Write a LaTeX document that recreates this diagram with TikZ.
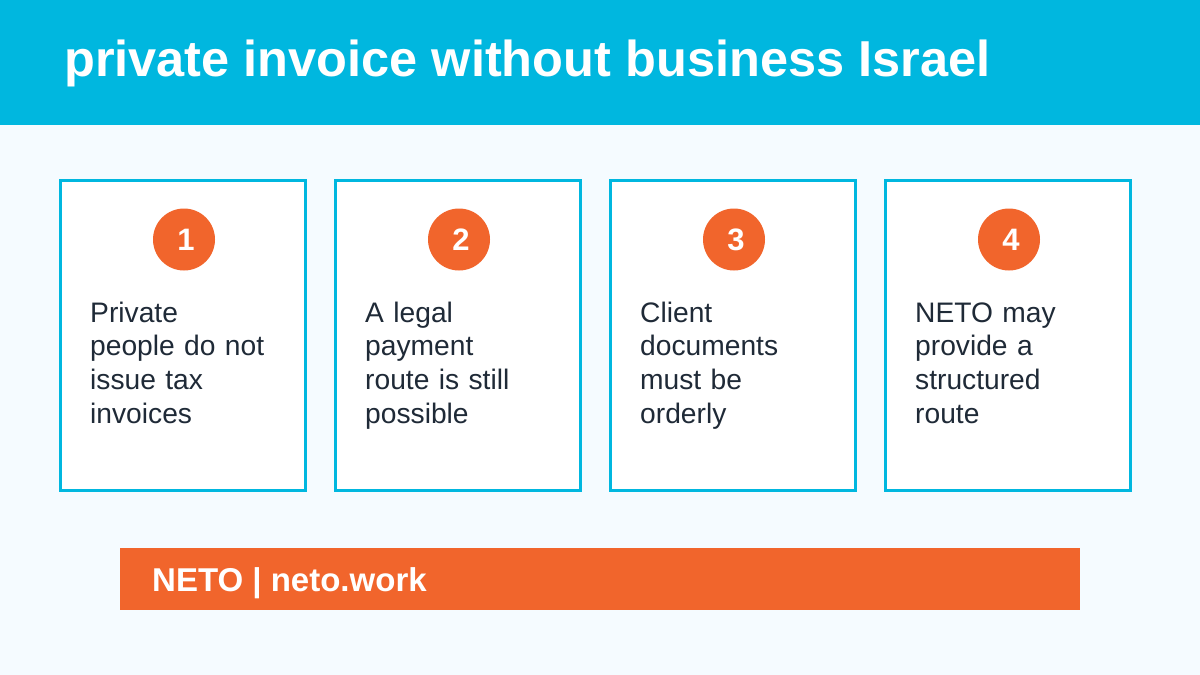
\documentclass[tikz,border=0pt]{standalone}
\usepackage{fontspec}
\setmainfont{Liberation Sans}
\newfontfamily\cardfont[WordSpace=0.7]{Liberation Sans}
\usetikzlibrary{positioning}
\definecolor{headblue}{HTML}{00B7DF}
\definecolor{pagetint}{HTML}{F5FBFF}
\definecolor{accent}{HTML}{F1652C}
\definecolor{inktext}{HTML}{1F2A37}
\begin{document}
\begin{tikzpicture}[
    x=1pt, y=-1pt,
    card/.style={draw=headblue, fill=white, line width=3.6pt, outer sep=0pt, minimum width=245pt, minimum height=310pt, inner sep=0pt},
    badge/.style={circle, fill=accent, text=white, minimum size=62pt, inner sep=0pt, font=\fontsize{31}{36}\selectfont\bfseries},
    cardtext/.style={text=inktext, text width=200pt, align=left, inner sep=0pt, font=\cardfont\fontsize{28.2}{33.7}\selectfont}
]
    % Page and header
    \fill[pagetint] (0, 0) rectangle (1200, 675);
    \useasboundingbox (0, 0) rectangle (1200, 675);
    \node[fill=headblue, outer sep=0pt, minimum width=1200pt, minimum height=125pt, inner sep=0pt, anchor=north west] (header) at (0, 0) {};
    \node[text=white, anchor=base west, inner sep=0pt, font=\fontsize{50.5}{60}\selectfont\bfseries] (title) at (64, 76) {private invoice without business Israel};

    % Cards
    \node[card, anchor=north west] (C1) at (60.3, 180.3) {};
    \node[card, anchor=north west] (C2) at (335.3, 180.3) {};
    \node[card, anchor=north west] (C3) at (610.3, 180.3) {};
    \node[card, anchor=north west] (C4) at (885.3, 180.3) {};

    % Numbers
    \node[badge] (B1) at (184, 239.5) {\hspace*{4pt}1};
    \node[badge] (B2) at (459, 239.5) {\hspace*{4pt}2};
    \node[badge] (B3) at (734, 239.5) {\hspace*{4pt}3};
    \node[badge] (B4) at (1009, 239.5) {\hspace*{4pt}4};

    % Card texts
    \node[cardtext, anchor=base west] (T1) at (90, 322) {Private\\people do not\\issue tax\\invoices};
    \node[cardtext, anchor=base west] (T2) at (365, 322) {A legal\\payment\\route is still\\possible};
    \node[cardtext, anchor=base west] (T3) at (640, 322) {Client\\documents\\must be\\orderly};
    \node[cardtext, anchor=base west] (T4) at (915, 322) {NETO may\\provide a\\structured\\route};

    % Footer
    \node[fill=accent, outer sep=0pt, minimum width=960pt, minimum height=62pt, inner sep=0pt, anchor=north west] (footer) at (120, 548) {};
    \node[text=white, anchor=base west, inner sep=0pt, font=\fontsize{33}{38}\selectfont\bfseries] (brand) at (152, 591) {NETO | neto.work};
\end{tikzpicture}
\end{document}
